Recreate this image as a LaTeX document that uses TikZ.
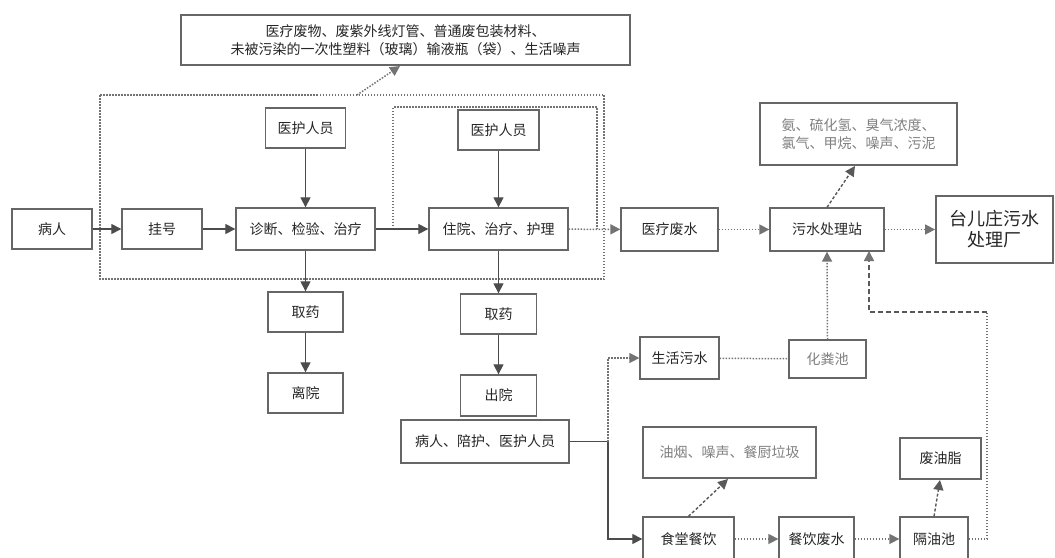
\documentclass[tikz,border=0pt]{standalone}
\usepackage{fontspec}
\newfontfamily\cjk{Noto Sans CJK SC}
\usetikzlibrary{arrows.meta}
\begin{document}
\begin{tikzpicture}[x=1pt,y=1pt,
  box/.style={draw=black!60, line width=1.3pt, fill=white, font=\cjk\fontsize{14}{18}\selectfont, text=black!85, align=center, inner sep=0pt},
  gbox/.style={box, text=black!50},
  tip/.style={-{Triangle[length=10pt,width=10pt]}},
  arr/.style={tip, draw=black!70, line width=1.1pt},
  dotl/.style={dash pattern=on 1.5pt off 1.5pt, line width=1.5pt, draw=black!55},
  dotarr/.style={dotl, tip},
  dasharr/.style={dash pattern=on 3pt off 2pt, line width=1.4pt, draw=black!65, tip},
  thickdash/.style={dash pattern=on 5pt off 3pt, line width=2.4pt, draw=black!65}
]
\useasboundingbox (0,0) rectangle (1055,-557);

% dotted enclosures
\draw[dotl] (100,-95) rectangle (604,-279);
\coordinate (inA) at (393,-229);
\coordinate (inB) at (597,-229);
\draw[dotl] (inA) -- (393,-107) -- (597,-107) -- (inB);

% nodes
\node[box, minimum width=449, minimum height=50] (top) at (405.5,-40) {医疗废物、废紫外线灯管、普通废包装材料、\\未被污染的一次性塑料（玻璃）输液瓶（袋）、生活噪声};
\node[box, minimum width=80, minimum height=40] (bingren) at (52,-229) {病人};
\node[box, minimum width=80, minimum height=40] (guahao) at (162,-229) {挂号};
\node[box, minimum width=139, minimum height=42] (zhenduan) at (305.5,-229) {诊断、检验、治疗};
\node[box, minimum width=80, minimum height=40] (yihu1) at (305.5,-128) {医护人员};
\node[box, minimum width=81, minimum height=40] (yihu2) at (498.5,-130) {医护人员};
\node[box, minimum width=139, minimum height=42] (zhuyuan) at (498.5,-229) {住院、治疗、护理};
\node[box, minimum width=75, minimum height=40] (quyao1) at (305.5,-312) {取药};
\node[box, minimum width=75, minimum height=40] (liyuan) at (305.5,-393) {离院};
\node[box, minimum width=76, minimum height=40] (quyao2) at (498.5,-314) {取药};
\node[box, minimum width=76, minimum height=41] (chuyuan) at (498.5,-395.5) {出院};
\node[box, minimum width=168, minimum height=43] (peihu) at (485,-441.5) {病人、陪护、医护人员};
\node[box, minimum width=97, minimum height=43] (ylfs) at (669.5,-229.5) {医疗废水};
\node[box, minimum width=114, minimum height=43] (wushui) at (827,-229.5) {污水处理站};
\node[box, line width=1.8pt, minimum width=117, minimum height=67, font=\cjk\fontsize{18}{21}\selectfont, text=black!85] (tai) at (994.5,-229.5) {台儿庄污水\\处理厂};
\node[gbox, minimum width=197, minimum height=62] (an) at (858.5,-134) {氨、硫化氢、臭气浓度、\\氯气、甲烷、噪声、污泥};
\node[box, minimum width=79, minimum height=42] (shenghuo) at (679.5,-358) {生活污水};
\node[gbox, minimum width=77, minimum height=38] (huafen) at (827.5,-359) {化粪池};
\node[gbox, line width=1.8pt, minimum width=173, minimum height=51] (youyan) at (729.5,-452.5) {油烟、噪声、餐厨垃圾};
\node[box, minimum width=91, minimum height=44] (shitang) at (688.5,-539) {食堂餐饮};
\node[box, minimum width=75, minimum height=44] (canyin) at (816.5,-539) {餐饮废水};
\node[box, minimum width=68, minimum height=44] (geyou) at (934,-539) {隔油池};
\node[box, minimum width=81, minimum height=41] (feiyou) at (940.5,-458.5) {废油脂};

% main flow
\draw[arr] (bingren) -- (guahao);
\draw[arr] (guahao) -- (zhenduan);
\draw[arr] (zhenduan) -- (zhuyuan);
\draw[arr] (yihu1) -- (zhenduan);
\draw[arr] (yihu2) -- (zhuyuan);
\draw[arr] (zhenduan) -- (quyao1);
\draw[arr] (quyao1) -- (liyuan);
\draw[arr] (zhuyuan) -- (quyao2);
\draw[arr] (quyao2) -- (chuyuan);
\draw[dotarr] (zhuyuan) -- (ylfs);
\draw[dotarr] (ylfs) -- (wushui);
\draw[dotarr] (wushui) -- (tai);
\coordinate (encTop) at (357,-95);
\draw[dotarr] (encTop) -- (400,-66);
\draw[dasharr] (wushui.north) -- (855,-166);

% lower branch
\coordinate (split) at (608,-441.5);
\draw[draw=black!70, line width=1.1pt] (peihu.east) -- (split);
\draw[dotl] (split) -- (608,-358);
\draw[dotarr] (608,-358) -- (shenghuo.west);
\draw[arr] (split) -- (608,-539) -- (shitang.west);
\draw[dotl] (shenghuo) -- (huafen);
\draw[dotarr] (huafen.north) -- (wushui.south);
\draw[dasharr] (shitang.north) -- (728,-479);
\draw[dotarr] (shitang) -- (canyin);
\draw[dotarr] (canyin) -- (geyou);
\draw[dasharr] (geyou.north) -- (940,-480);
\coordinate (rc) at (987,-312);
\coordinate (lc) at (869,-312);
\draw[dotl] (geyou.east) -- (987,-539) -- (rc);
\draw[thickdash] (rc) -- (lc) -- (869,-258);
\draw[dotarr] (869,-262) -- (869,-251);
\end{tikzpicture}
\end{document}
